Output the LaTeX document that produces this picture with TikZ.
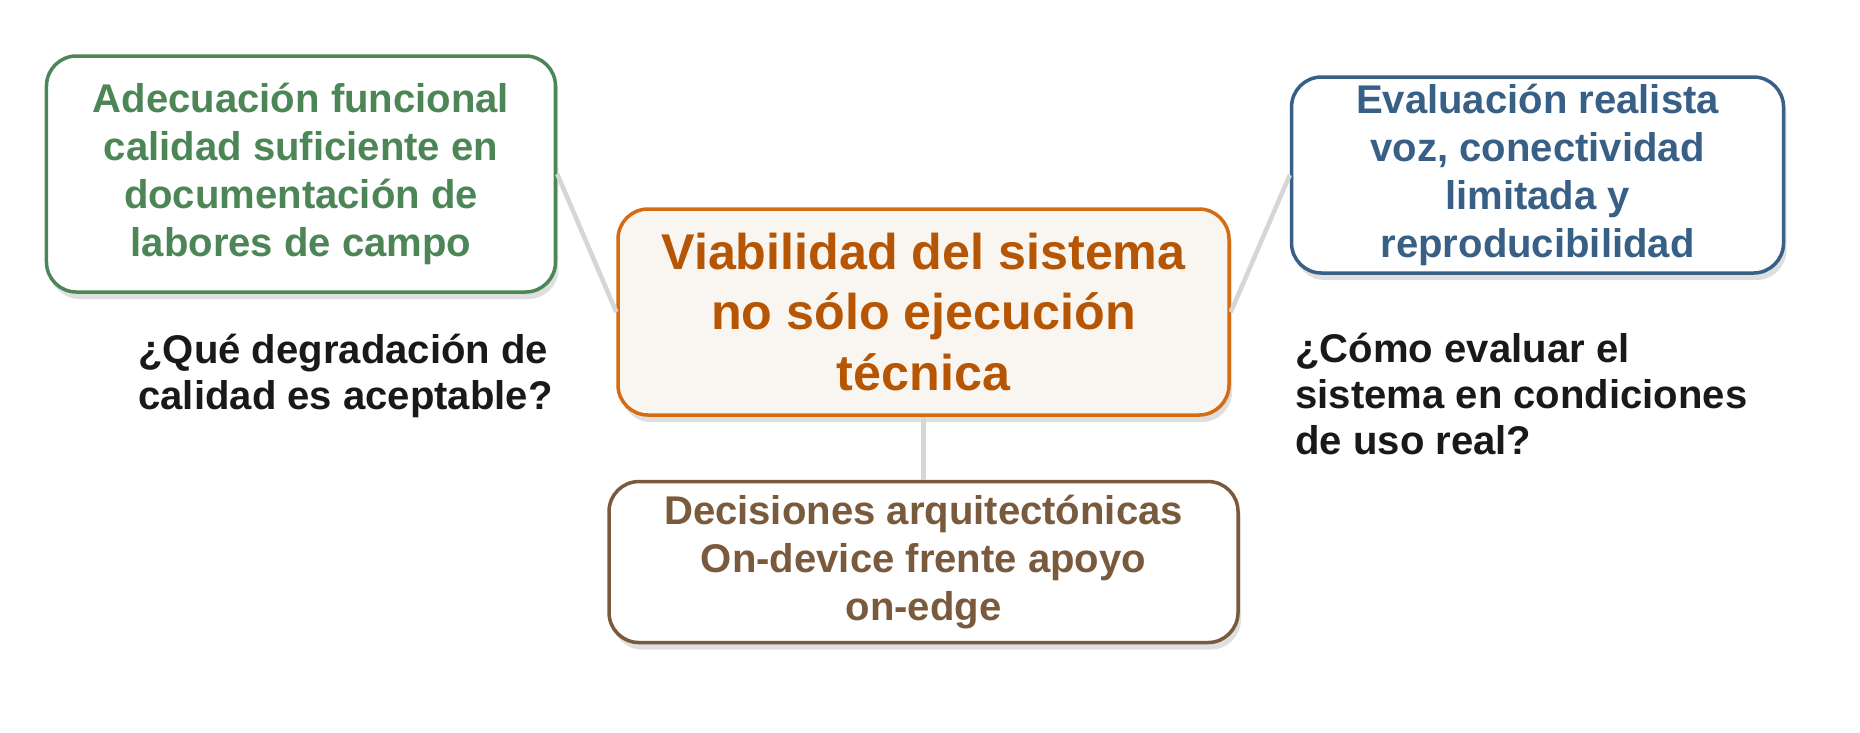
\documentclass[tikz,border=0pt]{standalone}
\usepackage{fontspec}
\setmainfont{Liberation Sans}
\usepackage{xcolor}
\usetikzlibrary{positioning,shadows}

\definecolor{verde}{RGB}{76,134,86}
\definecolor{naranja}{RGB}{214,108,18}
\definecolor{naranjatexto}{RGB}{182,86,4}
\definecolor{azul}{RGB}{56,96,135}
\definecolor{marron}{RGB}{122,90,60}
\definecolor{crema}{RGB}{249,246,242}

\begin{document}
\begin{tikzpicture}[
	caja/.style={rectangle, rounded corners=0.3cm, line width=1pt, fill=white, align=center, inner sep=0pt, font={\fontsize{11.4}{13.7}\selectfont\bfseries}, drop shadow={shadow xshift=0.03cm, shadow yshift=-0.07cm, opacity=0.25}},
	pregunta/.style={align=left, inner sep=0pt, text=black!90, font={\fontsize{11.4}{13.1}\selectfont\bfseries}},
	enlace/.style={draw=gray!32, line width=1.3pt}]
	\useasboundingbox (0,0) rectangle (18.6,-7.32);
	\node[caja, draw=naranja, fill=crema, text=naranjatexto, minimum width=6.11cm, minimum height=2.06cm, font={\fontsize{14.3}{17.1}\selectfont\bfseries}] (Viabilidad) at (9.235,-3.12) {Viabilidad del sistema\\no sólo ejecución\\técnica};
	\node[caja, draw=verde, text=verde, minimum width=5.09cm, minimum height=2.36cm, left=0.59cm of Viabilidad, yshift=1.38cm] (Adecuacion) {Adecuación funcional\\calidad suficiente en\\documentación de\\labores de campo};
	\node[caja, draw=azul, text=azul, minimum width=4.92cm, minimum height=1.96cm, right=0.59cm of Viabilidad, yshift=1.37cm] (Evaluacion) {Evaluación realista\\voz, conectividad\\limitada y\\reproducibilidad};
	\node[caja, draw=marron, text=marron, minimum width=6.29cm, minimum height=1.61cm, below=0.63cm of Viabilidad] (Decisiones) {Decisiones arquitectónicas\\On-device frente apoyo\\on-edge};
	
	\node[pregunta, below right=0.40cm and 0.93cm of Adecuacion.south west] (PreguntaCalidad) {¿Qué degradación de\\calidad es aceptable?};
	\node[pregunta, below right=0.58cm and 0.05cm of Evaluacion.south west] (PreguntaUso) {¿Cómo evaluar el\\sistema en condiciones\\de uso real?};
	
	\draw[enlace] (Adecuacion.east) -- (Viabilidad.west);
	\draw[enlace] (Evaluacion.west) -- (Viabilidad.east);
	\draw[enlace] (Viabilidad.south) -- (Decisiones.north);
\end{tikzpicture}
\end{document}
